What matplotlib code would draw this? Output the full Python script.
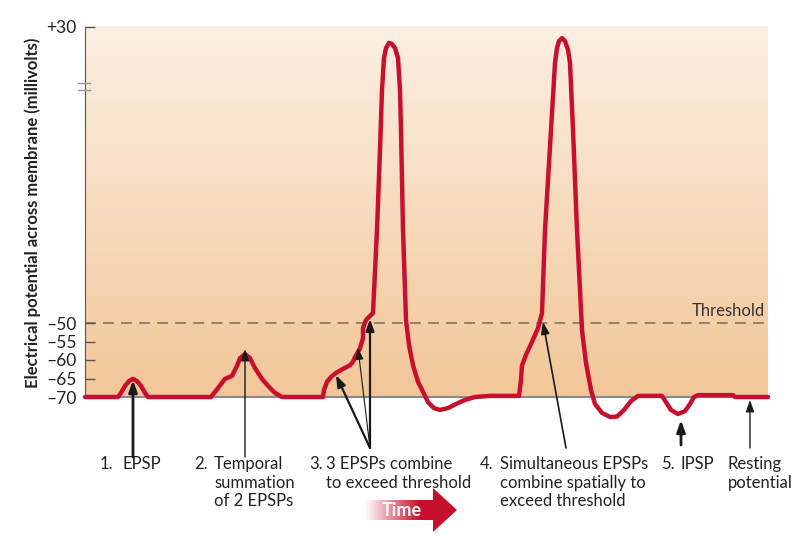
import numpy as np
import matplotlib
matplotlib.use('Agg')
import matplotlib.pyplot as plt
from matplotlib.patches import Polygon

plt.rcParams['font.family'] = ['Lato', 'DejaVu Sans']

# membrane potential trace (time in arbitrary units, mV)
time = [85, 118, 121, 125, 129, 133, 137, 141, 145, 148,
        211, 218, 225, 232, 237, 240, 245, 250, 255, 262, 268, 275, 282,
        323, 324, 327, 331, 336, 343, 350, 353, 355, 358, 360, 363, 363, 366, 370, 373,
        377, 380, 382, 384, 386, 389, 392, 395, 398, 400, 401, 403, 406, 409, 413, 418,
        423, 428, 434, 440, 448, 456, 465, 475, 490, 519,
        521, 522, 523, 526, 532, 538, 542, 545, 548, 551, 555, 557, 559, 562, 565, 568,
        570, 573, 577, 582, 586, 591, 595, 602, 610, 617, 624, 631, 638,
        662, 666, 671, 678, 685, 690, 694, 698, 733, 735, 768]
volts = [-70, -70, -68.9, -67.0, -65.7, -65.1, -65.7, -67.0, -68.9, -70,
         -70, -67.6, -65.1, -64.3, -61.6, -59.5, -58.4, -59.5, -62.2, -65.1, -67.0, -68.9, -70,
         -70, -68.1, -65.9, -64.6, -63.5, -62.4, -61.4, -60.5, -59.2, -57.8, -56.8, -54.1, -51.4, -49.2, -48.1, -47.3,
         -24.9, -3.2, 13.0, 21.6, 24.3, 25.7, 25.4, 24.3, 21.6, 13.0, 2.2, -24.9, -49.2, -56.0, -61.4, -65.9,
         -68.6, -71.4, -73.0, -73.5, -73.0, -71.9, -70.8, -70, -69.7, -69.7,
         -65.4, -61.4, -60.8, -58.6, -55.1, -51.4, -47.3, -24.9, -11.4, 2.2, 20.3, 24.3, 26.2, 27.0, 26.2, 23.8,
         20.3, 2.2, -24.9, -51.9, -60.8, -68.1, -71.9, -74.3, -75.4, -75.3, -73.5, -71.1, -69.7,
         -69.7, -71.4, -73.5, -74.6, -73.8, -71.9, -70, -69.5, -69.5, -70, -70]

y_ticks = [-70, -65, -60, -55, -50, 30]
y_tick_labels = ['\u201370', '\u201365', '\u201360', '\u201355', '\u201350', '+30']
threshold = -50
resting = -70
t_start, t_end = 85, 768

# (number x, number, text x, text)
labels = [
    (100, '1.', 123, 'EPSP'),
    (194, '2.', 214, 'Temporal\nsummation\nof 2 EPSPs'),
    (309, '3.', 326, '3 EPSPs combine\nto exceed threshold'),
    (480, '4.', 500, 'Simultaneous EPSPs\ncombine spatially to\nexceed threshold'),
    (661, '5.', 681, 'IPSP'),
    (None, '', 728, 'Resting\npotential'),
]

red = '#c8102e'
px = 3.7  # pixels per mV
fig = plt.figure(figsize=(7.97, 5.36), dpi=100)
ax = fig.add_axes([0, 0, 1, 1])
ax.set_xlim(0, 797)
ax.set_ylim(-70 - (536 - 397) / px, -70 + 397 / px)
ax.patch.set_alpha(0)

# background gradient
top = np.array([252, 239, 226]) / 255
bot = np.array([242, 198, 152]) / 255
f = np.linspace(0, 1, 256)[:, None]
grad = (top * (1 - f) + bot * f)[:, None, :]
ax.imshow(grad, extent=(t_start, t_end, resting, 30), aspect='auto', zorder=0)

ax.hlines(threshold, t_start, t_end, colors='#8e7a69', linestyles=(0, (6, 4)), lw=1.3, zorder=1)
ax.plot(time, volts, color=red, lw=3.2, solid_capstyle='round', solid_joinstyle='round', zorder=3)

for s in ['top', 'right']:
    ax.spines[s].set_visible(False)
ax.spines['left'].set_position(('data', t_start))
ax.spines['left'].set_bounds(resting, 30)
ax.spines['left'].set_color('#555555')
ax.spines['bottom'].set_position(('data', resting))
ax.spines['bottom'].set_bounds(t_start, t_end)
ax.spines['bottom'].set_color('#8a8a8a')
ax.spines['bottom'].set_linewidth(1.5)
ax.spines['bottom'].set_zorder(2)
ax.set_xticks([])
ax.set_yticks(y_ticks)
ax.set_yticklabels(y_tick_labels)
ax.tick_params(axis='y', direction='in', length=7, width=1, color='#555555', pad=6,
               labelsize=12.5, labelcolor='#222222')

# overlay in pixel coords for annotations
ov = fig.add_axes([0, 0, 1, 1], zorder=5)
ov.set_xlim(0, 797)
ov.set_ylim(536, 0)
ov.axis('off')
ov.patch.set_alpha(0)

ov.text(33, 213, 'Electrical potential across membrane (millivolts)', rotation=90,
        ha='center', va='center', fontsize=12, fontweight='bold', color='#222222')
ov.plot([78, 90], [83, 83], color='#999999', lw=1)
ov.plot([78, 90], [90, 90], color='#999999', lw=1)
ov.text(765, 311, 'Threshold', ha='right', va='center', fontsize=12, color='#333333')

for nx, num, tx, txt in labels:
    if nx is not None:
        ov.text(nx, 456, num, ha='left', va='top', fontsize=12, color='#222222')
    ov.text(tx, 456, txt, ha='left', va='top', fontsize=12, color='#222222', linespacing=1.2)

arrows = [
    ((133, 457), (133, 380), 2.0),
    ((245, 457), (245, 349), 1.0),
    ((370, 448), (336, 375), 1.6),
    ((370, 448), (358, 348), 0.8),
    ((370, 448), (370, 319), 1.6),
    ((566, 448), (543, 322), 1.2),
    ((681, 445), (681, 420), 2.0),
    ((750, 448), (750, 400), 1.0),
]
for (x0, y0), (x1, y1), w in arrows:
    ov.annotate('', xy=(x1, y1), xytext=(x0, y0),
                arrowprops=dict(arrowstyle='-|>,head_length=0.7,head_width=0.25',
                                color='#1a1a1a', lw=w, shrinkA=0, shrinkB=0))

# time arrow
pts = [(365, 500), (433, 500), (433, 488), (457, 510), (433, 532), (433, 520), (365, 520)]
poly = Polygon(pts, closed=True, facecolor='none', edgecolor='none')
ov.add_patch(poly)
ramp = np.zeros((1, 200, 4))
ramp[..., 0], ramp[..., 1], ramp[..., 2] = 200 / 255, 16 / 255, 46 / 255
ramp[0, :, 3] = np.clip(np.linspace(0, 1.7, 200), 0, 1)
im = ov.imshow(ramp, extent=(365, 457, 532, 488), aspect='auto', zorder=4)
im.set_clip_path(poly)
ov.text(402, 511, 'Time', ha='center', va='center', fontsize=13, fontweight='bold',
        color='white', zorder=6)
ov.set_xlim(0, 797)
ov.set_ylim(536, 0)

fig.savefig('out.png', dpi=100)
